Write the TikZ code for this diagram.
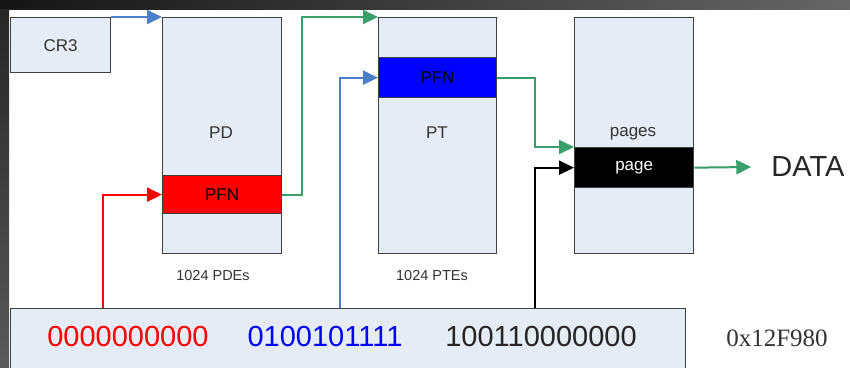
\documentclass[tikz,border=0pt]{standalone}
\usepackage{fontspec}
\setmainfont{Liberation Serif}
\setsansfont{Liberation Sans}
\usepackage{tikz}
\usetikzlibrary{arrows.meta}
\usepackage{xcolor}
\definecolor{boxfill}{HTML}{E6ECF6}
\definecolor{linkblue}{HTML}{4A7EC8}
\definecolor{linkgreen}{HTML}{3A9E6A}
\newcommand\pxfont[1]{\fontsize{#1}{#1}\selectfont}

\begin{document}
\begin{tikzpicture}[x=1pt, y=-1pt,
	tbl/.style={draw=black!75, line width=1.3pt, fill=boxfill, anchor=north west, inner sep=0pt},
	band/.style={draw=black!75, line width=1.3pt, anchor=north west, inner sep=0pt, minimum width=119pt, font=\sffamily\pxfont{17}},
	link/.style={line width=2pt, -{Triangle[length=15pt,width=14pt]}},
	tag/.style={font=\sffamily\pxfont{17}, text=black!80},
	bits/.style={font=\sffamily\pxfont{29}}]
	\useasboundingbox (0,0) rectangle (850,367);
	\clip (0,0) rectangle (850,367);
	\fill[white] (0,0) rectangle (850,367);
	\shade[left color=black!92, right color=black!60] (0,0) rectangle (850,9);
	\shade[top color=black!85, bottom color=black!65] (0,9) rectangle (9,367);

	\node[tbl, minimum width=100pt, minimum height=55pt, tag] (cr3) at (10,17) {CR3};
	\node[tbl, minimum width=119pt, minimum height=236pt] (pd) at (162,17) {};
	\node[tbl, minimum width=118pt, minimum height=236pt] (pt) at (378,17) {};
	\node[tbl, minimum width=119pt, minimum height=236pt] (pg) at (574,17) {};
	\node[band, fill=red, minimum height=38pt] (pdpfn) at (162,175) {PFN};
	\node[band, fill=blue, minimum width=118pt, minimum height=40pt] (ptpfn) at (378,57) {PFN};
	\node[band, fill=black, text=white, minimum height=40pt] (page) at (574,147) {page};
	\node[tbl, minimum width=675pt, minimum height=90pt] (addr) at (10,308) {};

	\node[tag] (pdname) at (221,133) {PD};
	\node[tag] (ptname) at (437,133) {PT};
	\node[tag] (pgname) at (633,134) {pages};
	\node[tag, font=\sffamily\pxfont{14.5}] (pdcount) at (213,276) {1024 PDEs};
	\node[tag, font=\sffamily\pxfont{14.5}] (ptcount) at (432,276) {1024 PTEs};

	\node[bits, text=red] (dirbits) at (128,337) {0000000000};
	\node[bits, text=blue] (tblbits) at (325,337) {0100101111};
	\node[bits, text=black!85] (offbits) at (541,337) {100110000000};
	\node[font=\pxfont{25}, text=black!80] (vaddr) at (777,338) {0x12F980};
	\node[bits, text=black!85, inner sep=2pt] (data) at (808,167) {DATA};

	\coordinate (dirtap) at (103,308);
	\coordinate (tbltap) at (340,308);
	\coordinate (offtap) at (535,308);

	\draw[link, linkblue] (cr3.north east) -- (pd.north west);
	\draw[link, red] (dirtap) |- (pdpfn.west);
	\draw[link, linkgreen] (pdpfn.east) -- ++(20,0) |- (pt.north west);
	\draw[link, linkblue] (tbltap) |- (ptpfn.west);
	\draw[link, linkgreen] (ptpfn.east) -| ([xshift=-39pt]page.north west) -- (page.north west);
	\draw[link, black] (offtap) |- (page.west);
	\draw[link, linkgreen] (page.east) -- ([xshift=-18pt]data.west);
\end{tikzpicture}
\end{document}
